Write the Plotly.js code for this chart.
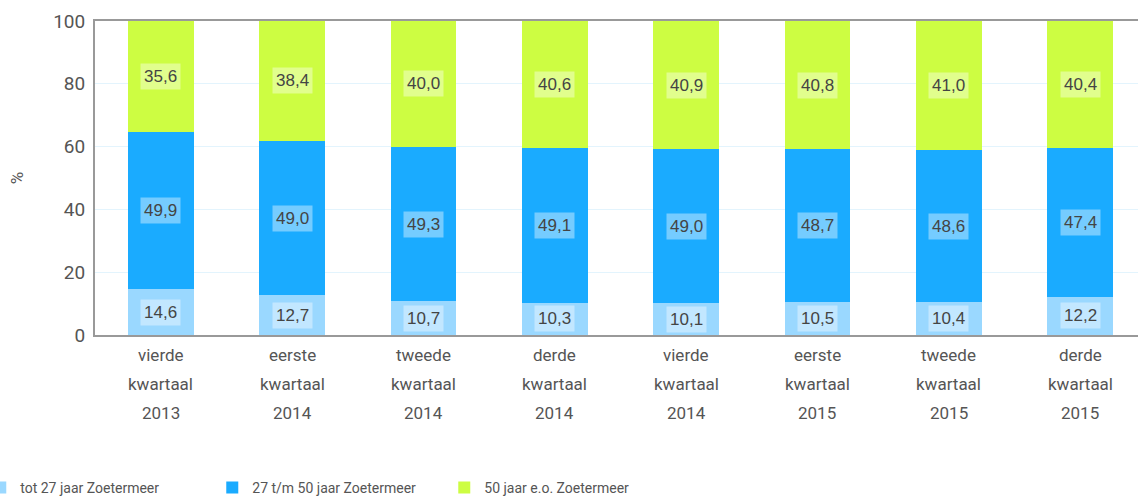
<!DOCTYPE html>
<html><head><meta charset="utf-8">
<script src="https://cdn.plot.ly/plotly-3.0.1.min.js"></script>
<style>html,body{margin:0;padding:0;background:#fff}#chart{width:1138px;height:497px}</style>
</head><body><div id="chart"></div>
<script>
const line1 = ['vierde','eerste','tweede','derde','vierde','eerste','tweede','derde'];
const line2 = ['kwartaal','kwartaal','kwartaal','kwartaal','kwartaal','kwartaal','kwartaal','kwartaal'];
const line3 = ['2013','2014','2014','2014','2014','2015','2015','2015'];
const categories = line1.map((a,i)=>a+' '+line2[i]+' '+line3[i]);
const seriesNames = ['tot 27 jaar Zoetermeer','27 t/m 50 jaar Zoetermeer','50 jaar e.o. Zoetermeer'];
const tot27 = [14.6,12.7,10.7,10.3,10.1,10.5,10.4,12.2];
const t27t50 = [49.9,49.0,49.3,49.1,49.0,48.7,48.6,47.4];
const plus50 = [35.6,38.4,40.0,40.6,40.9,40.8,41.0,40.4];
const colors = ['#9ad8ff','#1aabff','#cdfd42'];
const series = [tot27, t27t50, plus50];

const FONT = 'Roboto, "Open Sans", sans-serif';
const TXT = '#555555';

const traces = series.map((vals,k)=>({
  type:'bar', x:categories, y:vals, name:seriesNames[k],
  marker:{color:colors[k]}, hoverinfo:'skip'
}));

const annotations = [];
categories.forEach((c,i)=>{
  let base = 0;
  series.forEach(vals=>{
    const v = vals[i];
    annotations.push({x:c, y:base+v/2, xref:'x', yref:'y', text:v.toFixed(1).replace('.',','),
      showarrow:false, font:{family:'Arial, "Liberation Sans", sans-serif', size:17, color:'#444'},
      bgcolor:'rgba(255,255,255,0.4)', borderpad:3});
    base += v;
  });
  [line1[i], line2[i], line3[i]].forEach((t,j)=>{
    annotations.push({x:c, y:0, xref:'x', yref:'paper', yanchor:'middle', yshift:-20-29*j,
      text:t, showarrow:false, font:{family:FONT, size:17, color:TXT}});
  });
});

const layout = {
  width:1138, height:497,
  margin:{l:95, r:0, t:21, b:162, autoexpand:false},
  paper_bgcolor:'#fff', plot_bgcolor:'#fff',
  barmode:'stack', bargap:0.5,
  font:{family:FONT, color:TXT},
  xaxis:{type:'category', range:[-0.5,7.44], showticklabels:false, showgrid:false,
    showline:true, linecolor:'#999', linewidth:2, mirror:true, ticks:'', zeroline:false},
  yaxis:{range:[0,100], tickvals:[0,20,40,60,80,100], showgrid:true, gridcolor:'#e3f4fd',
    showline:true, linecolor:'#999', linewidth:2, ticks:'', zeroline:false,
    tickfont:{family:FONT, size:19, color:TXT}, ticklabelstandoff:4,
    title:{text:'%', font:{family:FONT, size:17, color:TXT}, standoff:25}},
  showlegend:true,
  legend:{orientation:'h', x:-0.110, xanchor:'left', y:-0.436, yanchor:'top',
    font:{family:FONT, size:14, color:TXT}, entrywidth:187, entrywidthmode:'pixels',
    traceorder:'normal', bgcolor:'rgba(0,0,0,0)'},
  annotations:annotations
};
Plotly.newPlot('chart', traces, layout, {displayModeBar:false, staticPlot:true});
</script></body></html>
